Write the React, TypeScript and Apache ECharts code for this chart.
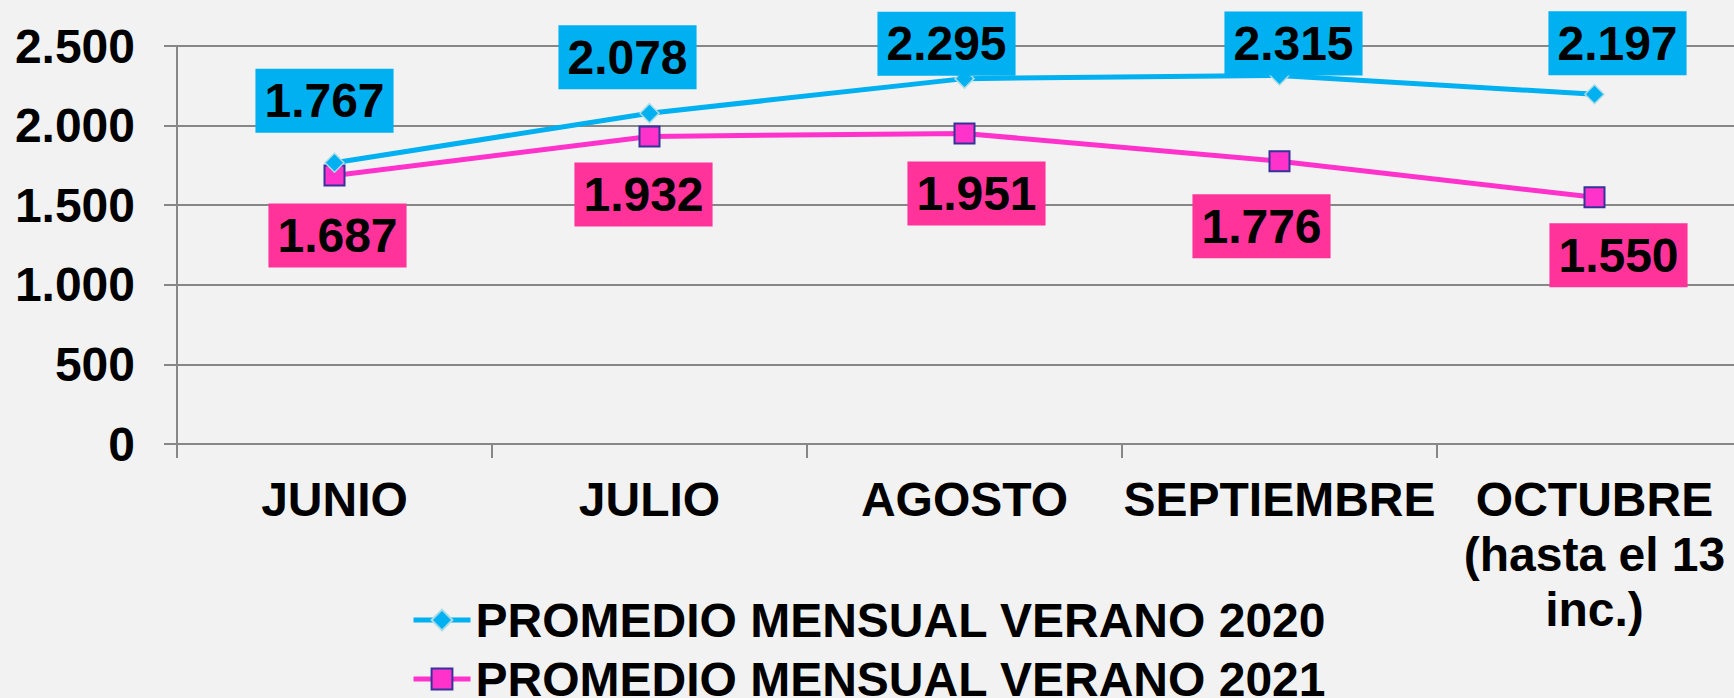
import React, { useEffect, useRef } from "react";
import * as echarts from "echarts";

const categories = ["JUNIO", "JULIO", "AGOSTO", "SEPTIEMBRE", "OCTUBRE\n(hasta el 13\ninc.)"];
const seriesNames = ["PROMEDIO MENSUAL VERANO 2020", "PROMEDIO MENSUAL VERANO 2021"];
const values2020 = [1767, 2078, 2295, 2315, 2197];
const values2021 = [1687, 1932, 1951, 1776, 1550];
const yMin = 0;
const yMax = 2500;
const yInterval = 500;

// label placement (offset of each label box centre from its point, px)
const labelOffsets2020 = [[-10, -62], [-22, -56], [-18, -35], [14, -32], [23, -51]];
const labelOffsets2021 = [[3, 60], [-6, 58], [12, 60], [-18, 65], [24, 58]];

const FONT = "'Liberation Sans', Arial, Helvetica, sans-serif";
const fmt = (n: number) => String(n).replace(/\B(?=(\d{3})+(?!\d))/g, ".");

export default function App() {
  const ref = useRef<HTMLDivElement>(null);
  useEffect(() => {
    document.body.style.margin = "0";
    document.body.style.background = "#F2F2F2";
    document.documentElement.style.overflow = "hidden";
    document.body.style.overflow = "hidden";
    const chart = echarts.init(ref.current!, null, { renderer: "svg" });
    const axisGray = "#878787";
    const labelBase = {
      show: true,
      position: "inside",
      fontFamily: FONT,
      fontSize: 48,
      fontWeight: "bold",
      color: "#000",
      padding: [6, 9],
      lineHeight: 52,
      formatter: (p: any) => fmt(p.value),
    };
    const build = (vals: number[], offs: number[][], bg: string) =>
      vals.map((v, i) => ({
        value: v,
        label: { ...labelBase, backgroundColor: bg, offset: offs[i] },
      }));
    chart.setOption({
      animation: false,
      backgroundColor: "#F2F2F2",
      grid: { left: 177, right: 8, top: 46, bottom: 254, containLabel: false },
      legend: {
        orient: "vertical",
        left: 411,
        top: 595,
        height: 160,
        padding: 0,
        itemWidth: 57,
        itemHeight: 26,
        itemGap: 9,
        lineStyle: { width: 5 },
        textStyle: {
          fontFamily: FONT,
          fontSize: 48,
          fontWeight: "bold",
          color: "#000",
          lineHeight: 50,
        },
        data: seriesNames,
      },
      xAxis: {
        type: "category",
        data: categories,
        boundaryGap: true,
        axisLine: { show: true, lineStyle: { color: axisGray, width: 2 } },
        axisTick: { show: true, length: 14, lineStyle: { color: axisGray, width: 2 } },
        axisLabel: {
          interval: 0,
          margin: 28,
          fontFamily: FONT,
          fontSize: 48,
          fontWeight: "bold",
          color: "#000",
          lineHeight: 55,
          align: "center",
        },
        splitLine: { show: false },
      },
      yAxis: {
        type: "value",
        min: yMin,
        max: yMax,
        interval: yInterval,
        axisLine: { show: true, lineStyle: { color: axisGray, width: 2 } },
        axisTick: { show: true, length: 13, lineStyle: { color: axisGray, width: 2 } },
        axisLabel: {
          margin: 42,
          fontFamily: FONT,
          fontSize: 48,
          fontWeight: "bold",
          color: "#000",
          formatter: (v: number) => fmt(v),
        },
        splitLine: { show: true, lineStyle: { color: axisGray, width: 2 } },
      },
      series: [
        {
          name: seriesNames[0],
          type: "line",
          data: build(values2020, labelOffsets2020, "#00B0F0"),
          symbol: "diamond",
          symbolSize: 19,
          lineStyle: { color: "#00B0F0", width: 5 },
          itemStyle: { color: "#00B0F0", borderColor: "#A9DCE6", borderWidth: 1.5 },
          z: 3,
        },
        {
          name: seriesNames[1],
          type: "line",
          data: build(values2021, labelOffsets2021, "#FF3399"),
          symbol: "rect",
          symbolSize: 20,
          lineStyle: { color: "#FF33CC", width: 5 },
          itemStyle: { color: "#FF33CC", borderColor: "#333399", borderWidth: 2 },
          z: 2,
        },
      ],
    });
    return () => chart.dispose();
  }, []);
  return (
    <div
      ref={ref}
      style={{ position: "fixed", left: 0, top: 0, width: 1760, height: 698, background: "#F2F2F2" }}
    />
  );
}
